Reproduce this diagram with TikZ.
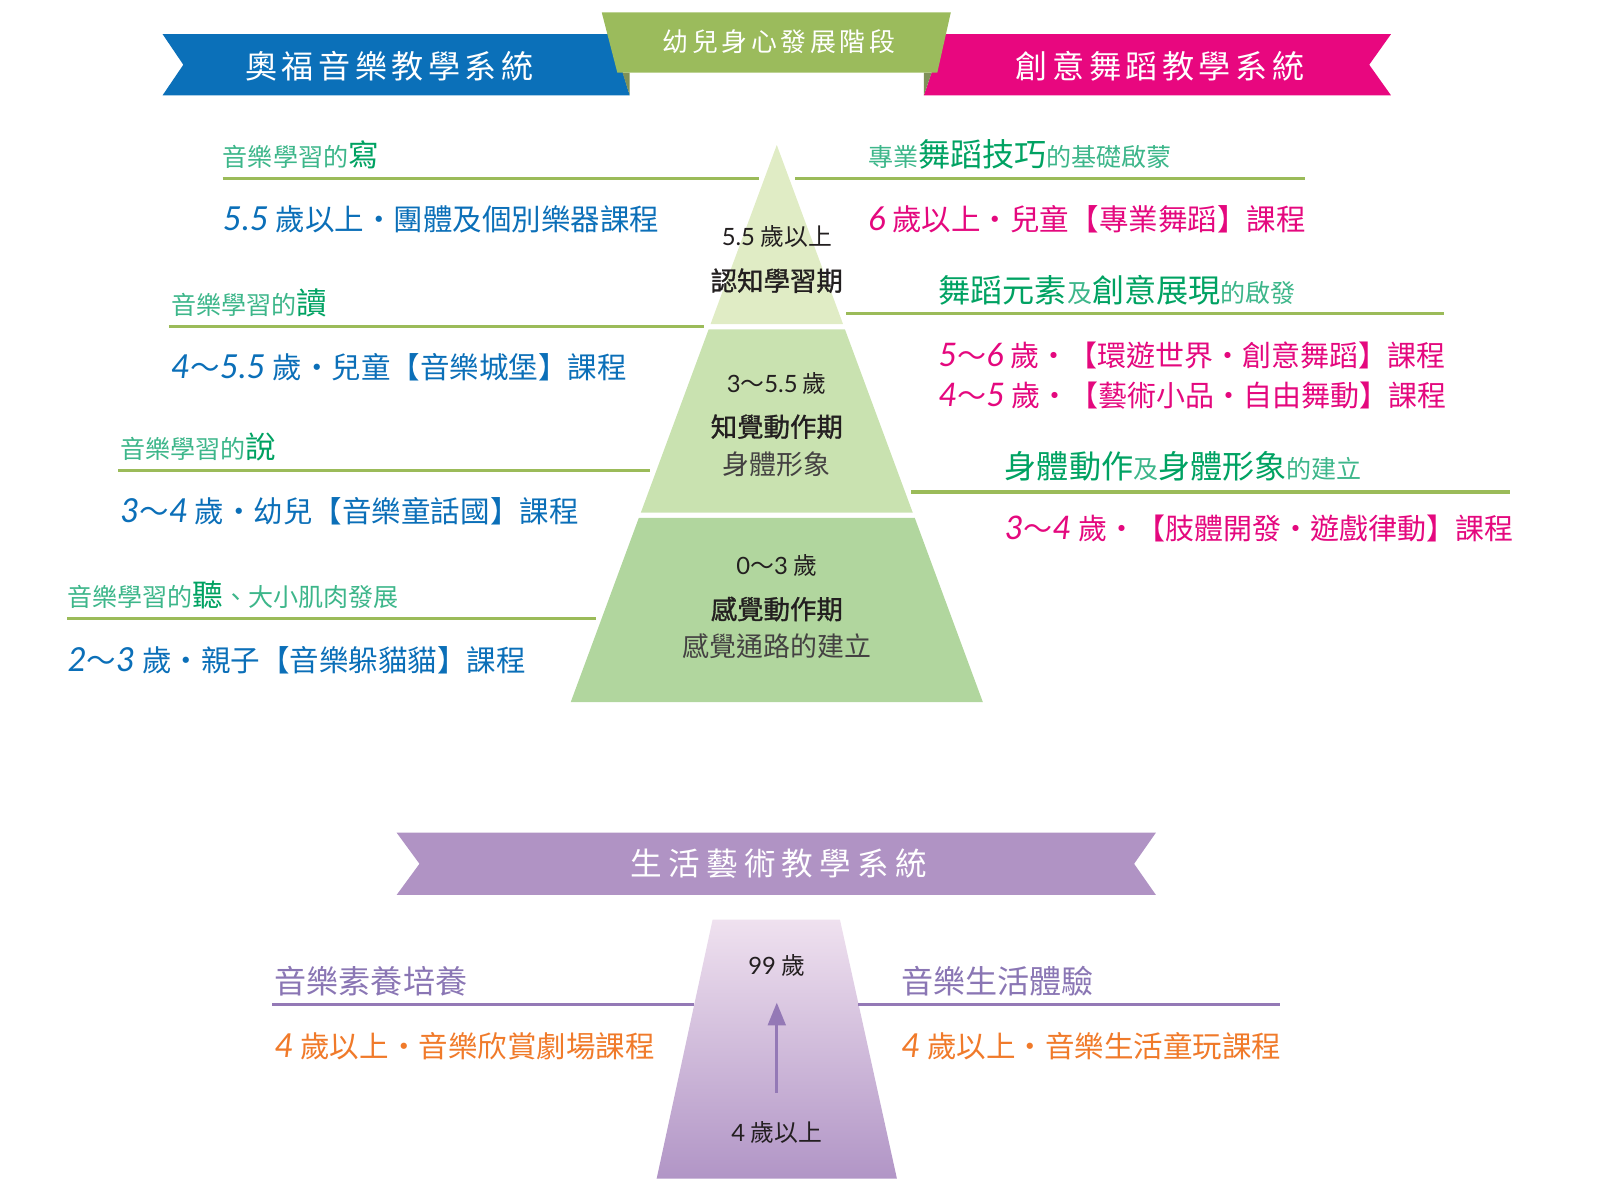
\documentclass[tikz,border=0pt]{standalone}
\usepackage{fontspec}
\setmainfont{Noto Sans CJK TC}
\newfontfamily\cjkspa[LetterSpace=14]{Noto Sans CJK TC}
\newfontfamily\cjkspb[LetterSpace=20]{Noto Sans CJK TC}
\newfontfamily\cjkmed[FakeBold=1.2]{Noto Sans CJK TC}
\newfontfamily\dig{Lato}
\newfontfamily\digc[Scale=1.12]{Lato}
\usetikzlibrary{arrows.meta}
\definecolor{bluebn}{HTML}{0B70B9}
\definecolor{greenbn}{HTML}{9BBB5C}
\definecolor{foldgr}{HTML}{7F9158}
\definecolor{pinkbn}{HTML}{E8077F}
\definecolor{lineg}{HTML}{9BBB59}
\definecolor{hsmall}{HTML}{3DB68A}
\definecolor{hbig}{HTML}{00A262}
\definecolor{bluetx}{HTML}{0B6FB8}
\definecolor{pinktx}{HTML}{E4087E}
\definecolor{tierA}{HTML}{E0ECC5}
\definecolor{tierB}{HTML}{C9E2B0}
\definecolor{tierC}{HTML}{B1D69E}
\definecolor{pyrtx}{HTML}{231F20}
\definecolor{purbn}{HTML}{B093C4}
\definecolor{purln}{HTML}{9479B6}
\definecolor{purtx}{HTML}{8A76B4}
\definecolor{orgtx}{HTML}{F07A2A}
\definecolor{trtop}{HTML}{EFE1EF}
\definecolor{trbot}{HTML}{B195C6}
\newcommand\nm[1]{{\digc\itshape #1}}
\newcommand\hs[1]{{\fontsize{24.2}{26}\selectfont\color{hsmall}#1}}
\newcommand\hbl[1]{{\fontsize{29.5}{30}\selectfont\color{hbig}#1}}
\newcommand\hbr[1]{{\fontsize{31}{32}\selectfont\color{hbig}#1}}
\begin{document}
\begin{tikzpicture}[x=1pt,y=-1pt,
  course/.style={anchor=west,inner sep=0pt,font=\fontsize{28.5}{30}\selectfont},
  coursen/.style={anchor=west,inner sep=0pt,font=\fontsize{28}{30}\selectfont},
  head/.style={anchor=base west,inner sep=0pt},
  gline/.style={draw=lineg,line width=3pt},
  pline/.style={draw=purln,line width=3pt},
  pyrtext/.style={inner sep=0pt,text=pyrtx,font=\fontsize{23}{25}\selectfont},
  pyrbold/.style={inner sep=0pt,text=pyrtx,font=\cjkmed\fontsize{25.5}{27}\selectfont},
  pyrsub/.style={inner sep=0pt,text=pyrtx!85,font=\fontsize{26}{28}\selectfont},
  bantext/.style={text=white,inner sep=0pt},
  bhead/.style={anchor=base west,inner sep=0pt,text=purtx,font=\fontsize{31}{32}\selectfont},
]
\useasboundingbox (0,0) rectangle (1568,1149);
% top banners
\fill[bluebn] (157,33) -- (590,33) -- (608,92) -- (157,92) -- (177,62.5) -- cycle;
\fill[pinkbn] (912,33) -- (1343,33) -- (1322,62.5) -- (1343,92) -- (892,92) -- cycle;
\fill[foldgr] (601,70) -- (608,70) -- (608,92) -- cycle;
\fill[foldgr] (892,70) -- (899.5,70) -- (892,92) -- cycle;
\fill[greenbn] (581,12) -- (918,12) -- (905,70) -- (596,70) -- cycle;
\node[bantext,font={\cjkspa\fontsize{31}{33}\selectfont}] (tb) at (376,64) {奧福音樂教學系統};
\node[bantext,font={\cjkspa\fontsize{25}{27}\selectfont}] (tg) at (752,40) {幼兒身心發展階段};
\node[bantext,font={\cjkspa\fontsize{31}{33}\selectfont}] (tpk) at (1120,64) {創意舞蹈教學系統};
% pyramid
\fill[tierA] (750,140) -- (814,313) -- (686,313) -- cycle;
\fill[tierB] (684.2,318) -- (815.8,318) -- (881.3,495) -- (618.7,495) -- cycle;
\fill[tierC] (616.8,500) -- (883.2,500) -- (949,678) -- (551,678) -- cycle;
% lines
\draw[gline] (215,172) -- (733,172);
\draw[gline] (768,172) -- (1260,172);
\draw[gline] (163,315) -- (680,315);
\draw[gline] (817,303) -- (1394,303);
\draw[gline] (114,454) -- (628,454);
\draw[gline] (880,475) -- (1458,475);
\draw[gline] (65,597) -- (575,597);
% left texts
\node[head] (lh1) at (215,161) {\hs{音樂學習的}\hbl{寫}};
\node[course,text=bluetx] (lc1) at (215,212) {\nm{5.5} 歲以上・團體及個別樂器課程};
\node[head] (lh2) at (165,304) {\hs{音樂學習的}\hbl{讀}};
\node[course,text=bluetx] (lc2) at (165,355) {\nm{4}～\nm{5.5} 歲・兒童【音樂城堡】課程};
\node[head] (lh3) at (116,443) {\hs{音樂學習的}\hbl{說}};
\node[course,text=bluetx] (lc3) at (116,494) {\nm{3}～\nm{4} 歲・幼兒【音樂童話國】課程};
\node[head] (lh4) at (65,586) {\hs{音樂學習的}\hbl{聽}\hs{、大小肌肉發展}};
\node[course,text=bluetx] (lc4) at (65,637) {\nm{2}～\nm{3} 歲・親子【音樂躲貓貓】課程};
% right texts
\node[head] (rh1) at (838,161) {\hs{專業}\hbr{舞蹈技巧}\hs{的基礎啟蒙}};
\node[course,text=pinktx] (rc1) at (838,212) {\nm{6} 歲以上・兒童【專業舞蹈】課程};
\node[head] (rh2) at (906,292) {\hbr{舞蹈元素}\hs{及}\hbr{創意展現}\hs{的啟發}};
\node[coursen,text=pinktx] (rc2) at (906,343) {\nm{5}～\nm{6} 歲・【環遊世界・創意舞蹈】課程};
\node[coursen,text=pinktx] (rc3) at (906,382) {\nm{4}～\nm{5} 歲・【藝術小品・自由舞動】課程};
\node[head] (rh3) at (970,462) {\hbr{身體動作}\hs{及}\hbr{身體形象}\hs{的建立}};
\node[coursen,text=pinktx] (rc4) at (970,510) {\nm{3}～\nm{4} 歲・【肢體開發・遊戲律動】課程};
% pyramid texts
\node[pyrtext] (t1a) at (750,228) {{\dig 5.5} 歲以上};
\node[pyrbold] (t1b) at (750,271) {認知學習期};
\node[pyrtext] (t2a) at (750,370) {{\dig 3}～{\dig 5.5} 歲};
\node[pyrbold] (t2b) at (750,412) {知覺動作期};
\node[pyrsub] (t2c) at (750,448) {身體形象};
\node[pyrtext] (t3a) at (750,546) {{\dig 0}～{\dig 3} 歲};
\node[pyrbold] (t3b) at (750,588) {感覺動作期};
\node[pyrsub] (t3c) at (750,624) {感覺通路的建立};
% bottom section
\fill[purbn] (383,804) -- (1116,804) -- (1095,834) -- (1116,864) -- (383,864) -- (405,834) -- cycle;
\node[bantext,font={\cjkspb\fontsize{30.5}{32}\selectfont}] (tp) at (752,834) {生活藝術教學系統};
\shade[top color=trtop,bottom color=trbot] (688,888) -- (811,888) -- (866,1138) -- (634,1138) -- cycle;
\draw[pline] (263,970) -- (670.3,970);
\draw[pline] (828.7,970) -- (1236,970);
\node[bhead] (bh1) at (265,959) {音樂素養培養};
\node[course,text=orgtx] (bc1) at (265,1010) {\nm{4} 歲以上・音樂欣賞劇場課程};
\node[bhead] (bh2) at (870,959) {音樂生活體驗};
\node[course,text=orgtx] (bc2) at (870,1010) {\nm{4} 歲以上・音樂生活童玩課程};
\node[pyrtext] (age99) at (750,932) {{\dig 99} 歲};
\node[pyrtext] (age4) at (750,1093) {{\dig 4} 歲以上};
\coordinate (arrS) at (750,1055);
\coordinate (arrE) at (750,968);
\draw[purln,line width=3pt,-{Triangle[length=22pt,width=17pt]}] (arrS) -- (arrE);
\end{tikzpicture}
\end{document}
